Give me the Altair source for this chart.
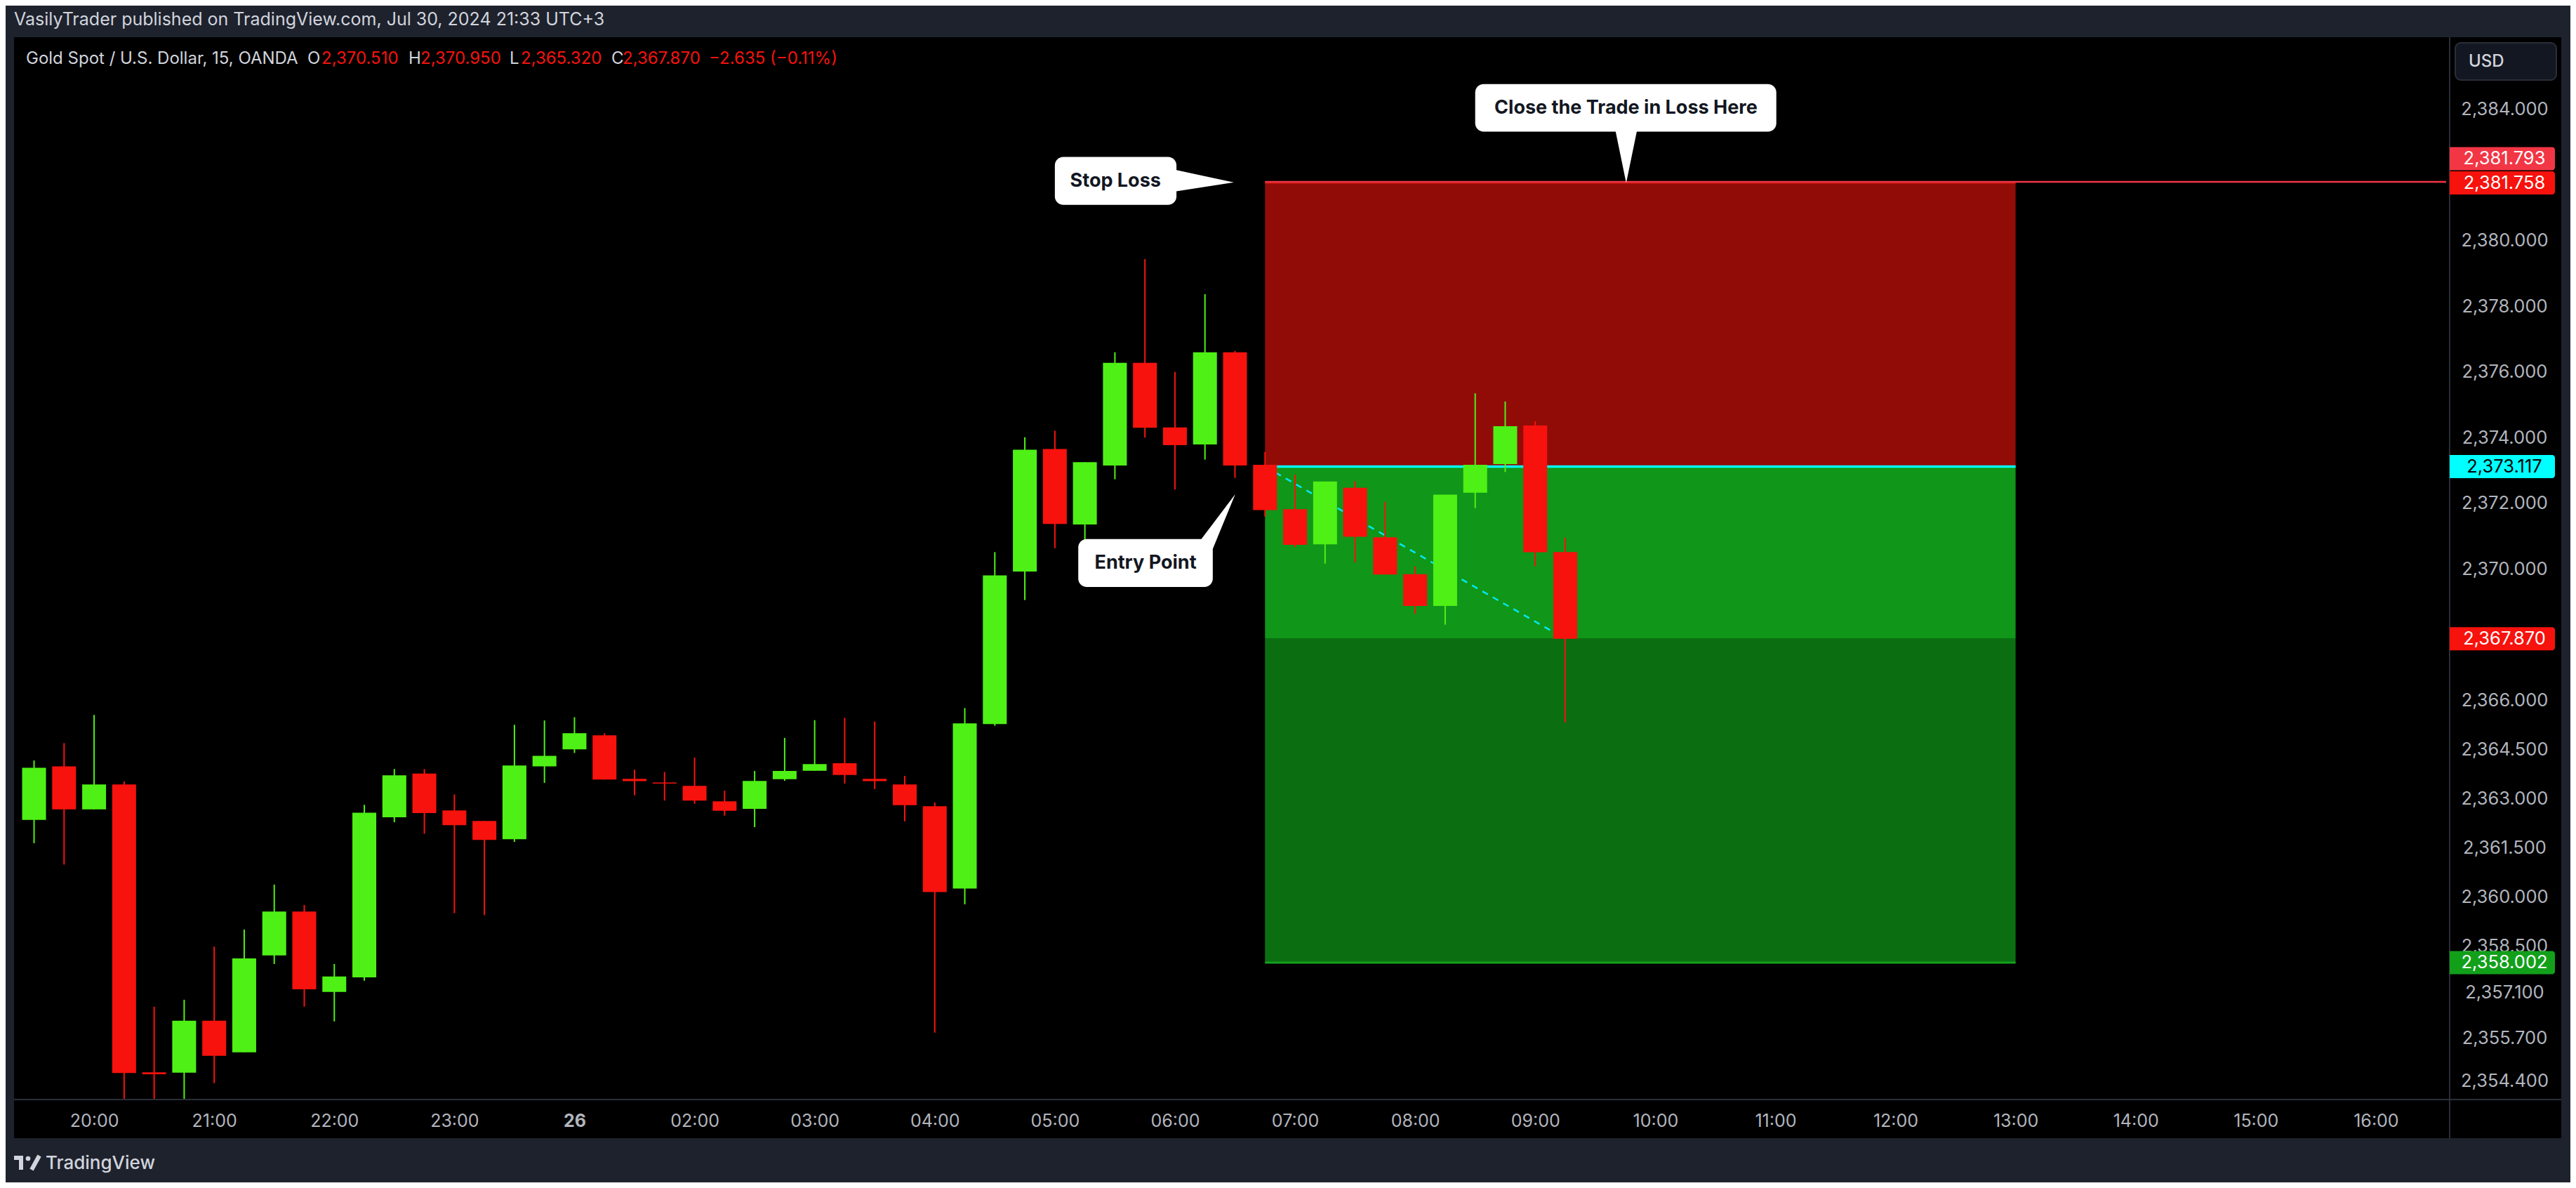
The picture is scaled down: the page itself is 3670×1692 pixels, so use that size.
import altair as alt
import pandas as pd

# ---------------- data ----------------
bar_index = list(range(52))
opens = [2362.35, 2363.98, 2362.67, 2363.43, 2354.66, 2354.65, 2356.23, 2355.27, 2358.22, 2359.56,
         2357.11, 2357.55, 2362.43, 2363.76, 2362.64, 2362.32, 2361.76, 2363.98, 2364.50, 2364.93,
         2363.60, 2363.49, 2363.39, 2362.92, 2362.69, 2363.59, 2363.85, 2364.08, 2363.60, 2363.43,
         2362.77, 2360.26, 2365.27, 2369.92, 2373.65, 2371.35, 2373.15, 2376.28, 2374.31, 2373.79,
         2376.60, 2373.17, 2371.82, 2370.75, 2372.47, 2370.96, 2369.84, 2368.87, 2372.32, 2373.19,
         2374.37, 2370.51]
highs = [2364.16, 2364.69, 2365.55, 2363.52, 2356.66, 2356.87, 2358.49, 2359.01, 2360.38, 2359.76,
         2357.96, 2362.81, 2363.90, 2363.90, 2363.13, 2362.32, 2365.25, 2365.38, 2365.48, 2364.99,
         2363.88, 2363.81, 2364.25, 2363.24, 2363.84, 2364.85, 2365.39, 2365.46, 2365.35, 2363.69,
         2362.88, 2365.76, 2370.51, 2374.01, 2374.21, 2373.25, 2376.60, 2379.44, 2376.00, 2378.37,
         2376.64, 2373.56, 2372.87, 2372.66, 2372.67, 2372.04, 2370.07, 2372.26, 2375.35, 2375.10,
         2374.50, 2370.95]
lows = [2361.64, 2360.99, 2362.67, 2353.80, 2353.80, 2353.80, 2354.33, 2355.27, 2357.96, 2356.66,
        2356.21, 2357.45, 2362.28, 2361.93, 2359.51, 2359.45, 2361.68, 2363.48, 2364.39, 2363.58,
        2363.10, 2362.94, 2362.84, 2362.48, 2362.13, 2363.54, 2363.85, 2363.46, 2363.29, 2362.31,
        2355.87, 2359.78, 2365.22, 2369.05, 2370.63, 2370.85, 2372.73, 2374.00, 2372.42, 2373.33,
        2372.77, 2371.59, 2370.66, 2370.16, 2370.20, 2369.83, 2368.63, 2368.30, 2371.85, 2372.95,
        2370.08, 2365.32]
closes = [2363.94, 2362.67, 2363.43, 2354.64, 2354.60, 2356.23, 2355.16, 2358.13, 2359.56, 2357.19,
          2357.58, 2362.57, 2363.71, 2362.56, 2362.19, 2361.74, 2364.01, 2364.30, 2364.99, 2363.58,
          2363.53, 2363.46, 2362.94, 2362.63, 2363.54, 2363.84, 2364.05, 2363.72, 2363.53, 2362.80,
          2360.15, 2365.29, 2369.80, 2373.63, 2371.37, 2373.25, 2376.28, 2374.30, 2373.77, 2376.60,
          2373.15, 2371.79, 2370.73, 2372.66, 2370.98, 2369.83, 2368.87, 2372.26, 2373.17, 2374.35,
          2370.505, 2367.87]

hour_ticks = list(range(2, 79, 4))
hour_labels = ["20:00", "21:00", "22:00", "23:00", "26", "02:00", "03:00", "04:00", "05:00", "06:00",
               "07:00", "08:00", "09:00", "10:00", "11:00", "12:00", "13:00", "14:00", "15:00", "16:00"]
price_ticks = [2384, 2380, 2378, 2376, 2374, 2372, 2370, 2366, 2364.5, 2363, 2361.5, 2360,
               2358.5, 2357.1, 2355.7, 2354.4]

entry_price = 2373.117
stop_price = 2381.758
target_price = 2358.002
ray_price = 2381.793
pos_start_bar = 41
pos_end_bar = 66
last_close = closes[-1]

header_text = "VasilyTrader published on TradingView.com, Jul 30, 2024 21:33 UTC+3"
symbol_text = "Gold Spot / U.S. Dollar, 15, OANDA"

# ---------------- styles ----------------
GREEN = "#4FF016"
RED = "#F7120D"
GRAY = "#B2B5BE"
LIGHT = "#D1D4DC"
DARK = "#1E222D"
BORDER = "#2A2E39"
FONT = "Inter"
PRICE_FS = 25.5

W, H = 3470, 1513
XMIN, XMAX = -0.55, 80.34
YMIN, YMAX = 2353.83, 2386.20

xs = alt.Scale(domain=[XMIN, XMAX], nice=False, zero=False)
ys = alt.Scale(domain=[YMIN, YMAX], nice=False, zero=False)

label_arr = "[" + ",".join("'%s'" % s for s in hour_labels) + "]"
xaxis = alt.Axis(values=hour_ticks, labelExpr=label_arr + "[round((datum.value-2)/4)]",
                 labelColor=GRAY, labelFontSize=25, labelFont=FONT, labelPadding=30,
                 labelBaseline="middle", tickSize=0, domain=False, grid=False, title=None,
                 labelFlush=False, labelOverlap=False,
                 labelFontWeight={"condition": {"test": "datum.value == 18", "value": "bold"},
                                  "value": "normal"})
yaxis = alt.Axis(orient="right", values=price_ticks, format=",.3f", labelAlign="center",
                 labelPadding=78, labelBaseline="middle", tickSize=0, domain=False, grid=False,
                 labelColor=GRAY, labelFontSize=PRICE_FS, labelFont=FONT, title=None,
                 labelOverlap=False, labelFlush=False)


def X(f):
    return alt.X(f, type="quantitative", scale=xs, axis=xaxis)


def Y(f):
    return alt.Y(f, type="quantitative", scale=ys, axis=yaxis)


one = pd.DataFrame({"k": [0]})


def static_rect(x0, x1, y0, y1, color, **kw):
    return alt.Chart(one).mark_rect(color=color, **kw).encode(
        x=alt.value(x0), x2=alt.value(x1), y=alt.value(y0), y2=alt.value(y1))


def static_text(txt, x, y, color, size, weight="normal", align="left"):
    return alt.Chart(pd.DataFrame({"t": [txt]})).mark_text(
        align=align, baseline="middle", font=FONT, fontSize=size, fontWeight=weight, color=color
    ).encode(x=alt.value(x), y=alt.value(y), text="t:N")


layers = []

# page frame (dark around black pane)
layers.append(static_rect(-12, 3642, -45, 0, DARK))
layers.append(static_rect(-12, 0, -45, 1631, DARK))
layers.append(static_rect(3629, 3642, -45, 1631, DARK))
layers.append(static_rect(-12, 3642, 1568, 1631, DARK))

# position tool
zones = pd.DataFrame({
    "x0": [pos_start_bar] * 3, "x1": [pos_end_bar] * 3,
    "y0": [entry_price, last_close, target_price],
    "y1": [stop_price, entry_price, last_close],
    "fill": ["#910C07", "#109618", "#0B6F12"],
})
layers.append(alt.Chart(zones).mark_rect().encode(
    x=X("x0"), x2="x1", y=Y("y0"), y2="y1", color=alt.Color("fill:N", scale=None)))

levels = pd.DataFrame({
    "x0": [pos_start_bar, pos_start_bar, pos_start_bar],
    "x1": [pos_end_bar, pos_end_bar, pos_end_bar],
    "p": [stop_price, target_price, entry_price],
    "c": ["#C4140F", "#13A01C", "#00FFFF"],
    "w": [2.5, 3.0, 3.5],
})
for _, r in levels.iterrows():
    layers.append(alt.Chart(pd.DataFrame([r])).mark_rule(color=r["c"], strokeWidth=float(r["w"])).encode(
        x=X("x0"), x2="x1", y=Y("p")))

ray = pd.DataFrame({"x0": [pos_start_bar], "x1": [XMAX], "p": [ray_price]})
layers.append(alt.Chart(ray).mark_rule(color="#F23645", strokeWidth=2.5).encode(
    x=X("x0"), x2="x1", y=Y("p")))

trend = pd.DataFrame({"i": [pos_start_bar, bar_index[-1]], "p": [entry_price, last_close]})
layers.append(alt.Chart(trend).mark_line(color="#00E8F0", strokeWidth=2.5, strokeDash=[9, 8]).encode(
    x=X("i"), y=Y("p")))

# candles
df = pd.DataFrame({"i": bar_index, "o": opens, "h": highs, "l": lows, "c": closes})
df["dir"] = ["up" if c >= o else "down" for o, c in zip(opens, closes)]
ccol = alt.Color("dir:N", scale=alt.Scale(domain=["up", "down"], range=[GREEN, RED]), legend=None)
layers.append(alt.Chart(df).mark_rule(strokeWidth=2, clip=True).encode(
    x=X("i"), y=Y("l"), y2="h", color=ccol))
layers.append(alt.Chart(df).mark_bar(size=34, clip=True, orient="vertical").encode(
    x=X("i"), y=Y("o"), y2="c", color=ccol))

# callouts
callouts = pd.DataFrame({
    "t": ["Stop Loss", "Close the Trade in Loss Here", "Entry Point"],
    "x0": [34.0, 48.0, 34.78], "x1": [38.05, 58.03, 39.26],
    "y0": [2381.09, 2383.32, 2369.45], "y1": [2382.55, 2384.77, 2370.91],
    "tx": [36.02, 53.02, 37.02], "ty": [2381.82, 2384.04, 2370.18],
})
layers.append(alt.Chart(callouts).mark_rect(color="white", cornerRadius=12).encode(
    x=X("x0"), x2="x1", y=Y("y0"), y2="y1"))

stop_ptr = pd.DataFrame({"i": [38.0, 39.96], "a": [2382.16, 2381.775], "b": [2381.50, 2381.775]})
layers.append(alt.Chart(stop_ptr).mark_area(color="white").encode(x=X("i"), y=Y("a"), y2="b"))
entry_ptr = pd.DataFrame({"i": [38.88, 39.26, 40.01], "a": [2370.91, 2371.37, 2372.28],
                          "b": [2370.91, 2370.61, 2372.28]})
layers.append(alt.Chart(entry_ptr).mark_area(color="white").encode(x=X("i"), y=Y("a"), y2="b"))
close_ptr = pd.DataFrame({"p": [2383.36, 2381.76], "a": [52.67, 53.03], "b": [53.39, 53.03]})
layers.append(alt.Chart(close_ptr).mark_area(color="white", orient="horizontal").encode(
    y=Y("p"), x=X("a"), x2="b"))

layers.append(alt.Chart(callouts).mark_text(
    font=FONT, fontSize=27, fontWeight="bold", color="#131722", align="center", baseline="middle"
).encode(x=X("tx"), y=Y("ty"), text="t:N"))

# separators
layers.append(alt.Chart(one).mark_rule(color=BORDER, strokeWidth=2).encode(
    x=alt.value(3470), y=alt.value(0), y2=alt.value(1568)))
layers.append(alt.Chart(one).mark_rule(color=BORDER, strokeWidth=2).encode(
    x=alt.value(0), x2=alt.value(3629), y=alt.value(1513)))

# price badges
badge_prices = [ray_price, stop_price, entry_price, last_close, target_price]
badge_bg = ["#F23645", "#F7120D", "#00FFFF", "#F7120D", "#12A01B"]
badge_fg = ["#FFFFFF", "#FFFFFF", "#000000", "#FFFFFF", "#FFFFFF"]
badge_shift = [-33, 0, 0, 0, 0]
for p, bg, fg, sh in zip(badge_prices, badge_bg, badge_fg, badge_shift):
    bd = pd.DataFrame({"p": [p], "lab": [f"{p:,.3f}"]})
    layers.append(alt.Chart(bd).mark_rect(
        color=bg, yOffset=sh - 16.5, y2Offset=sh + 16.5,
        cornerRadiusTopRight=4, cornerRadiusBottomRight=4
    ).encode(x=alt.value(3470), x2=alt.value(3620), y=Y("p"), y2="p"))
    layers.append(alt.Chart(bd).mark_text(
        color=fg, font=FONT, fontSize=PRICE_FS, align="center", baseline="middle", dy=sh
    ).encode(x=alt.value(3548), y=Y("p"), text="lab:N"))

# USD button
layers.append(static_rect(3478, 3622, 8, 61, "#131722", stroke=BORDER, strokeWidth=2, cornerRadius=8))
layers.append(static_text("USD", 3497, 35, LIGHT, 24, 500))

# header & legend
layers.append(static_text(header_text, 0, -25, LIGHT, 25))
prev_close = closes[-2]
chg = last_close - prev_close
pct = chg / prev_close * 100
chg_txt = f"{chg:.3f} ({pct:.2f}%)".replace("-", "\u2212")
layers.append(static_text(symbol_text, 17, 31, LIGHT, 24))
for lab, val, lx, vx in [("O", opens[-1], 418, 438), ("H", highs[-1], 562, 579),
                         ("L", lows[-1], 706, 722), ("C", closes[-1], 851, 867)]:
    layers.append(static_text(lab, lx, 31, LIGHT, 24))
    layers.append(static_text(f"{val:,.3f}", vx, 31, RED, 24))
layers.append(static_text(chg_txt, 990, 31, RED, 24))

# TradingView logo + wordmark
layers.append(static_rect(0, 13, 1593, 1599, LIGHT))
layers.append(static_rect(7, 13, 1593, 1613, LIGHT))
layers.append(alt.Chart(one).mark_circle(color=LIGHT, opacity=1, size=45).encode(
    x=alt.value(20), y=alt.value(1597)))
layers.append(alt.Chart(one).mark_rule(color=LIGHT, strokeWidth=6).encode(
    x=alt.value(25), x2=alt.value(36), y=alt.value(1613), y2=alt.value(1593)))
layers.append(static_text("TradingView", 45, 1604, LIGHT, 26, 500))

chart = alt.layer(*layers).properties(
    width=W, height=H,
    autosize=alt.AutoSizeParams(type="none"),
    padding={"left": 12, "top": 45, "right": 172, "bottom": 118},
    background="#000000",
).configure_view(stroke=None, fill="#000000")

chart.save("out.html", embed_options={"renderer": "svg", "actions": False})
